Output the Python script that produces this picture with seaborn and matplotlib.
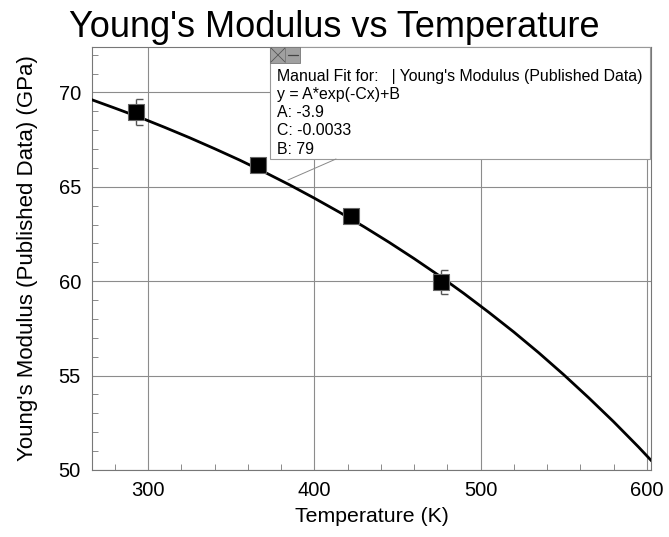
import numpy as np
import pandas as pd
import matplotlib.pyplot as plt
import seaborn as sns
from matplotlib.patches import Rectangle
from matplotlib.lines import Line2D
from matplotlib.path import Path
from matplotlib.ticker import MultipleLocator

# Published data points
temp_k = [293, 366, 422, 476]
modulus_gpa = [68.95, 66.15, 63.45, 59.95]
modulus_err = [0.7, 0.3, 0.3, 0.65]

# Manual fit curve
fit_temp = [265, 280, 295, 310, 325, 340, 355, 370, 385, 400, 415, 430, 445, 460,
            475, 490, 505, 520, 535, 550, 565, 580, 595, 603]
fit_modulus = [69.65, 69.17, 68.68, 68.15, 67.60, 67.02, 66.42, 65.78, 65.11, 64.40,
               63.66, 62.88, 62.06, 61.20, 60.30, 59.35, 58.35, 57.31, 56.21, 55.05,
               53.83, 52.56, 51.22, 50.47]

fit_lines = ["Manual Fit for:   | Young's Modulus (Published Data)",
             "y = A*exp(-Cx)+B",
             "A: -3.9",
             "C: -0.0033",
             "B: 79"]

sns.set_style("white")
plt.rcParams["font.family"] = ["Liberation Sans", "DejaVu Sans"]
plt.rcParams["text.color"] = "black"

fig = plt.figure(figsize=(6.69, 5.37), dpi=100)
ax = fig.add_axes([0.1375, 0.1248, 0.8355, 0.7875])

df_fit = pd.DataFrame({"T": fit_temp, "E": fit_modulus})
df_pts = pd.DataFrame({"T": temp_k, "E": modulus_gpa})

sns.lineplot(data=df_fit, x="T", y="E", ax=ax, color="black", linewidth=2, zorder=3)

# error bars drawn as "[" brackets: vertical line with caps pointing right
ax.errorbar(temp_k, modulus_gpa, yerr=modulus_err, fmt="none", ecolor="#555555",
            elinewidth=1, capsize=0, zorder=4)
cap = Path([(0, 0), (1, 0)], [Path.MOVETO, Path.LINETO])
lo = [m - e for m, e in zip(modulus_gpa, modulus_err)]
hi = [m + e for m, e in zip(modulus_gpa, modulus_err)]
ax.plot(temp_k + temp_k, lo + hi, linestyle="none", marker=cap, markersize=10,
        markeredgecolor="#555555", markeredgewidth=1, zorder=4)

sns.scatterplot(data=df_pts, x="T", y="E", ax=ax, marker="s", s=135, color="black",
                edgecolor="#666666", linewidth=0.8, zorder=5)

ax.set_xlim(266.3, 602.5)
ax.set_ylim(50, 72.4)
ax.xaxis.set_major_locator(MultipleLocator(100))
ax.xaxis.set_minor_locator(MultipleLocator(20))
ax.yaxis.set_major_locator(MultipleLocator(5))
ax.yaxis.set_minor_locator(MultipleLocator(1))
ax.grid(True, which="major", color="#8c8c8c", linewidth=0.8)
ax.tick_params(which="major", direction="out", length=5, color="#777777",
               labelsize=14.5, labelcolor="black", pad=3)
ax.tick_params(which="minor", direction="in", length=4, color="#777777",
               bottom=True, left=True)
for s in ax.spines.values():
    s.set_color("#777777")
    s.set_linewidth(0.8)

ax.set_xlabel("Temperature (K)", fontsize=15.3, labelpad=5, color="black")
ax.set_ylabel("Young's Modulus (Published Data) (GPa)", fontsize=16, labelpad=15,
              color="black")
fig.text(0.5, 1 - 37 / 537, "Young's Modulus vs Temperature", ha="center",
         va="baseline", fontsize=26)

# annotation box (figure pixel coordinates -> fractions)
W, H = 669, 537
def fx(px):
    return px / W
def fy(py):
    return 1 - py / H

fig.add_artist(Line2D([fx(288), fx(336)], [fy(180), fy(159)], color="#888888",
                      linewidth=0.7))
fig.add_artist(Rectangle((fx(270), fy(159)), fx(650) - fx(270), fy(47) - fy(159),
                         facecolor="white", edgecolor="#999999", linewidth=0.8))
fig.add_artist(Rectangle((fx(270), fy(63)), fx(300) - fx(270), fy(47) - fy(63),
                         facecolor="#a0a0a0", edgecolor="#777777", linewidth=0.6))
fig.add_artist(Line2D([fx(271), fx(285)], [fy(48), fy(62)], color="#555555", linewidth=0.6))
fig.add_artist(Line2D([fx(271), fx(285)], [fy(62), fy(48)], color="#555555", linewidth=0.6))
fig.add_artist(Line2D([fx(285), fx(285)], [fy(48), fy(62)], color="#777777", linewidth=0.6))
fig.add_artist(Line2D([fx(288), fx(298)], [fy(55), fy(55)], color="#444444", linewidth=0.9))
for i, line in enumerate(fit_lines):
    fig.text(fx(277), fy(76 + i * 18.3), line, ha="left", va="center", fontsize=11.4)

plt.savefig("out.png", dpi=100)
plt.close()
